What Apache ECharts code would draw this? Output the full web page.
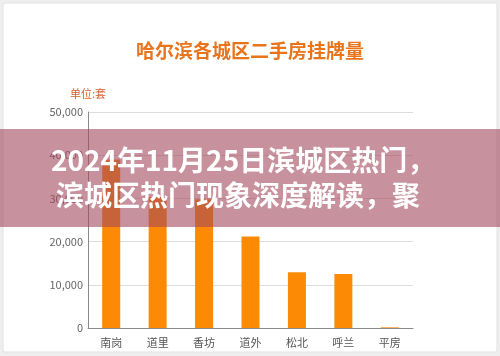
<!DOCTYPE html>
<html>
<head>
<meta charset="utf-8">
<script src="https://cdn.jsdelivr.net/npm/echarts@6/dist/echarts.min.js"></script>
<style>
html,body{margin:0;padding:0;background:#eeeeee;}
#c{width:500px;height:356px;}
</style>
</head>
<body>
<div id="c"></div>
<script>
const categories = ['南岗','道里','香坊','道外','松北','呼兰','平房'];
const listings = [39000, 30300, 29800, 21200, 12900, 12500, 150];
const yTicks = [0, 10000, 20000, 30000, 40000, 50000];
const chartTitle = '哈尔滨各城区二手房挂牌量';
const unitLabel = '单位:套';
const bannerLines = ['2024年11月25日滨城区热门，', '滨城区热门现象深度解读，聚'];

const chart = echarts.init(document.getElementById('c'), null, {renderer:'canvas'});
const fontCJK = '"Noto Sans CJK SC","Noto Sans",sans-serif';
chart.setOption({
  animation:false,
  backgroundColor:'#eeeeee',
  title:{
    text:chartTitle, left:'center', top:36,
    textStyle:{color:'#e8741c', fontSize:19, fontWeight:'bold', fontFamily:fontCJK}
  },
  grid:{left:88, right:87, top:112, bottom:28, containLabel:false},
  xAxis:{
    type:'category', data:categories,
    axisLine:{lineStyle:{color:'#8a8a8a'}},
    axisTick:{show:false},
    axisLabel:{color:'#555', fontSize:11, margin:9, fontFamily:fontCJK}
  },
  yAxis:{
    type:'value', min:yTicks[0], max:yTicks[yTicks.length-1], interval:10000,
    name:unitLabel, nameGap:13,
    nameTextStyle:{color:'#d4622c', fontSize:11, fontFamily:fontCJK},
    axisLine:{show:true, lineStyle:{color:'#8a8a8a'}},
    axisTick:{show:false},
    splitLine:{lineStyle:{color:'#dddddd'}},
    axisLabel:{color:'#666', fontSize:11, margin:5, fontFamily:fontCJK,
      formatter:v=>v.toLocaleString('en-US')}
  },
  series:[{
    type:'bar', data:listings, barWidth:18,
    itemStyle:{color:'#fd8a04'}
  }],
  graphic:[
    {type:'rect', z:-10, shape:{x:3,y:3,width:494,height:349,r:2},
     style:{fill:'#ffffff', stroke:'#e2e2e2', lineWidth:1}},
    {type:'rect', z:100, shape:{x:0,y:129,width:500,height:98},
     style:{fill:'rgba(163,72,93,0.6)'}},
    {type:'text', z:101, x:51, y:160,
     style:{text:bannerLines[0], fill:'#ffffff', font:'bold 28px '+fontCJK,
            textAlign:'left', textVerticalAlign:'middle'}},
    {type:'text', z:101, x:56, y:195,
     style:{text:bannerLines[1], fill:'#ffffff', font:'bold 28px '+fontCJK,
            textAlign:'left', textVerticalAlign:'middle'}}
  ]
});
</script>
</body>
</html>
